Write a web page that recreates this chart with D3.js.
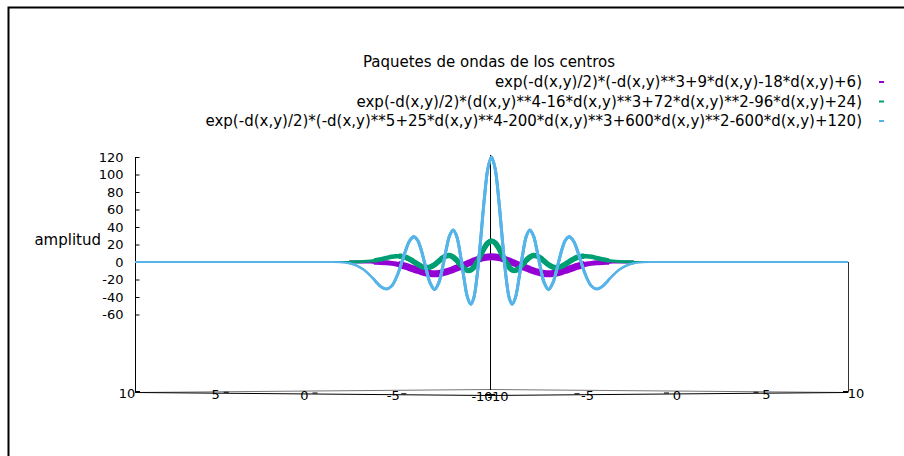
<!DOCTYPE html>
<html>
<head>
<meta charset="utf-8">
<script src="https://cdn.jsdelivr.net/npm/d3@7"></script>
<style>
  body { margin: 0; background: #fff; }
  text { font-family: "DejaVu Sans", sans-serif; font-size: 15px; fill: #000; }
  .tick text, .bt { font-size: 13px; }
</style>
</head>
<body>
<div id="canvas"></div>
<script>
// horizontal position of the profile, in units along the base diagonal (y - x)
var uVals = [-20, -15, -12, -10, -9, -8.5, -8, -7.6, -7.2, -6.8, -6.5, -6.2, -5.9, -5.6, -5.35, -5.1, -4.85, -4.6, -4.36, -4.15,
  -3.95, -3.7, -3.45, -3.2, -2.95, -2.75, -2.55, -2.35, -2.15, -1.95, -1.75, -1.55, -1.35, -1.16, -1, -0.8, -0.6, -0.4, -0.2,
  0,
  0.2, 0.4, 0.6, 0.8, 1, 1.16, 1.35, 1.55, 1.75, 1.95, 2.15, 2.35, 2.55, 2.75, 2.95, 3.2, 3.45, 3.7, 3.95,
  4.15, 4.36, 4.6, 4.85, 5.1, 5.35, 5.6, 5.9, 6.2, 6.5, 6.8, 7.2, 7.6, 8, 8.5, 9, 10, 12, 15, 20];

// amplitud
var purple = [0, 0, 0, 0, 0, 0, 0, -0.01, -0.04, -0.12, -0.25, -0.49, -0.9, -1.57, -2.38, -3.46, -4.82, -6.42, -8.1, -9.58,
  -10.9, -12.28, -13.18, -13.47, -13.11, -12.4, -11.34, -10.03, -8.55, -6.95, -5.29, -3.59, -1.87, -0.26, 1.07, 2.63, 4.0, 5.07, 5.76,
  6,
  5.76, 5.07, 4.0, 2.63, 1.07, -0.26, -1.87, -3.59, -5.29, -6.95, -8.55, -10.03, -11.34, -12.4, -13.11, -13.47, -13.18, -12.28, -10.9,
  -9.58, -8.1, -6.42, -4.82, -3.46, -2.38, -1.57, -0.9, -0.49, -0.25, -0.12, -0.04, -0.01, 0, 0, 0, 0, 0, 0, 0];

var green = [0, 0, 0, 0, 0, 0.02, 0.07, 0.2, 0.51, 1.19, 2.03, 3.2, 4.58, 5.9, 6.59, 6.54, 5.47, 3.27, 0.33, -2.45,
  -4.77, -6.39, -5.89, -3.12, 1.12, 4.52, 6.86, 7.34, 5.59, 1.89, -2.86, -7.17, -9.58, -9.05, -6.18, 0.12, 8.19, 16.12, 21.89,
  24,
  21.89, 16.12, 8.19, 0.12, -6.18, -9.05, -9.58, -7.17, -2.86, 1.89, 5.59, 7.34, 6.86, 4.52, 1.12, -3.12, -5.89, -6.39, -4.77,
  -2.45, 0.33, 3.27, 5.47, 6.54, 6.59, 5.9, 4.58, 3.2, 2.03, 1.19, 0.51, 0.2, 0.07, 0.02, 0, 0, 0, 0, 0];

var blue = [0, 0, 0, 0, -0.1, -0.4, -1.5, -3.8, -8.3, -15.5, -22.2, -28.3, -30.9, -27.4, -18.3, -4.5, 11.2, 24.0, 28.9, 25.0,
  14.2, -5.3, -23.6, -31.4, -23.3, -6.8, 13.4, 30.2, 36.7, 29.2, 8.8, -17.6, -40.1, -48.2, -41.6, -14.4, 27.7, 72.8, 107.2,
  120,
  107.2, 72.8, 27.7, -14.4, -41.6, -48.2, -40.1, -17.6, 8.8, 29.2, 36.7, 30.2, 13.4, -6.8, -23.3, -31.4, -23.6, -5.3, 14.2,
  25.0, 28.9, 24.0, 11.2, -4.5, -18.3, -27.4, -30.9, -28.3, -22.2, -15.5, -8.3, -3.8, -1.5, -0.4, -0.1, 0, 0, 0, 0];

var zTicks = [-60, -40, -20, 0, 20, 40, 60, 80, 100, 120];
var xTicks = [10, 5, 0, -5, -10];
var yTicks = [-10, -5, 0, 5, 10];

var titleText = "Paquetes de ondas de los centros";
var legendLabels = [
  "exp(-d(x,y)/2)*(-d(x,y)**3+9*d(x,y)-18*d(x,y)+6)",
  "exp(-d(x,y)/2)*(d(x,y)**4-16*d(x,y)**3+72*d(x,y)**2-96*d(x,y)+24)",
  "exp(-d(x,y)/2)*(-d(x,y)**5+25*d(x,y)**4-200*d(x,y)**3+600*d(x,y)**2-600*d(x,y)+120)"
];
var colors = ["#9400d3", "#009e73", "#56b4e9"];
// band widths: [inner, middle, outer] for each curve
var widths = [[7, 5, 3], [5.5, 4.5, 3], [3, 3, 2.5]];

const W = 904, H = 456;
const svg = d3.select("#canvas").append("svg")
  .attr("width", W).attr("height", H);

// page frame (right and bottom edges fall outside the window)
svg.append("path")
  .attr("d", "M8.5," + H + "V7.5H" + W)
  .attr("fill", "none").attr("stroke", "#000").attr("stroke-width", 2);

// scales
const u = d3.scaleLinear().domain([-20, 20]).range([135, 848]);
const z = d3.scaleLinear().domain([0, 120]).range([262, 157]);
const xs = d3.scaleLinear().domain([10, -10]).range([135, 490]);
const ys = d3.scaleLinear().domain([-10, 10]).range([490, 848]);
// front edges of the base are slightly tilted
const frontY = d3.scaleLinear().domain([135, 490, 848]).range([392.5, 395.5, 392.5]);
const backY = d3.scaleLinear().domain([135, 490, 848]).range([392.5, 389.5, 392.5]);

// base of the box
svg.append("path")
  .attr("d", "M135," + backY(135) + "L490," + backY(490) + "L848," + backY(848))
  .attr("fill", "none").attr("stroke", "#777").attr("stroke-width", 1);
svg.append("path")
  .attr("d", "M135," + frontY(135) + "L490," + frontY(490) + "L848," + frontY(848))
  .attr("fill", "none").attr("stroke", "#000").attr("stroke-width", 1);

// verticals
svg.append("line").attr("x1", 135.5).attr("x2", 135.5).attr("y1", 157).attr("y2", 392.5)
  .attr("stroke", "#000");
svg.append("line").attr("x1", 490.5).attr("x2", 490.5).attr("y1", 155).attr("y2", 390)
  .attr("stroke", "#000");
svg.append("line").attr("x1", 848.5).attr("x2", 848.5).attr("y1", 262).attr("y2", 392.5)
  .attr("stroke", "#333");

// z axis
const zAxis = svg.append("g")
  .attr("transform", "translate(135.5,0)")
  .call(d3.axisLeft(z).tickValues(zTicks).tickFormat(d => String(d))
    .tickSizeInner(-4).tickSizeOuter(0).tickPadding(12));
zAxis.select(".domain").remove();
zAxis.selectAll("text").style("font-size", "13px").style("font-family", "DejaVu Sans");

svg.append("text")
  .attr("x", 101).attr("y", 240).attr("dy", "0.35em")
  .attr("text-anchor", "end")
  .text("amplitud");

// base tick labels
svg.selectAll(".xt").data(xTicks).enter().append("text")
  .attr("class", "bt")
  .attr("x", d => xs(d) - 8).attr("y", d => frontY(xs(d)) + 1).attr("dy", "0.35em")
  .attr("text-anchor", "middle").text(d => String(d));
svg.selectAll(".xtk").data(xTicks).enter().append("line")
  .attr("x1", d => xs(d)).attr("x2", d => xs(d) + 5)
  .attr("y1", d => frontY(xs(d)) - 1).attr("y2", d => frontY(xs(d)) - 1)
  .attr("stroke", "#000");
svg.selectAll(".yt").data(yTicks).enter().append("text")
  .attr("class", "bt")
  .attr("x", d => ys(d) + 8).attr("y", d => frontY(ys(d)) + 1).attr("dy", "0.35em")
  .attr("text-anchor", "middle").text(d => String(d));
svg.selectAll(".ytk").data(yTicks).enter().append("line")
  .attr("x1", d => ys(d) - 5).attr("x2", d => ys(d))
  .attr("y1", d => frontY(ys(d)) - 1).attr("y2", d => frontY(ys(d)) - 1)
  .attr("stroke", "#000");

// the overlapping mesh lines make the bands thick only where the waves are
var bandLimits = [5.2, 6.6, 8];
bandLimits.forEach(function (lim, j) {
  svg.append("clipPath").attr("id", "band" + j)
    .append("rect")
    .attr("x", u(-lim)).attr("width", u(lim) - u(-lim))
    .attr("y", 0).attr("height", H);
});

// profiles
const series = [purple, green, blue];
const line = d3.line()
  .x((d, i) => u(uVals[i]))
  .y(d => z(d))
  .curve(d3.curveCatmullRom);
series.forEach(function (s, k) {
  svg.append("path")
    .datum(s)
    .attr("d", line)
    .attr("fill", "none")
    .attr("stroke", colors[k])
    .attr("stroke-width", 2);
  bandLimits.forEach(function (lim, j) {
    svg.append("path")
      .datum(s)
      .attr("d", line)
      .attr("clip-path", "url(#band" + (2 - j) + ")")
      .attr("fill", "none")
      .attr("stroke", colors[k])
      .attr("stroke-width", widths[k][2 - j])
      .attr("stroke-linejoin", "round");
  });
});

// title and key
svg.append("text")
  .attr("x", 489).attr("y", 62).attr("dy", "0.35em")
  .attr("text-anchor", "middle")
  .text(titleText);
legendLabels.forEach(function (t, k) {
  const yy = 82 + k * 19.5;
  svg.append("text")
    .attr("x", 862).attr("y", yy).attr("dy", "0.35em")
    .attr("text-anchor", "end")
    .text(t);
  svg.append("line")
    .attr("x1", 879).attr("x2", 884).attr("y1", yy).attr("y2", yy)
    .attr("stroke", colors[k]).attr("stroke-width", 2);
});
</script>
</body>
</html>
